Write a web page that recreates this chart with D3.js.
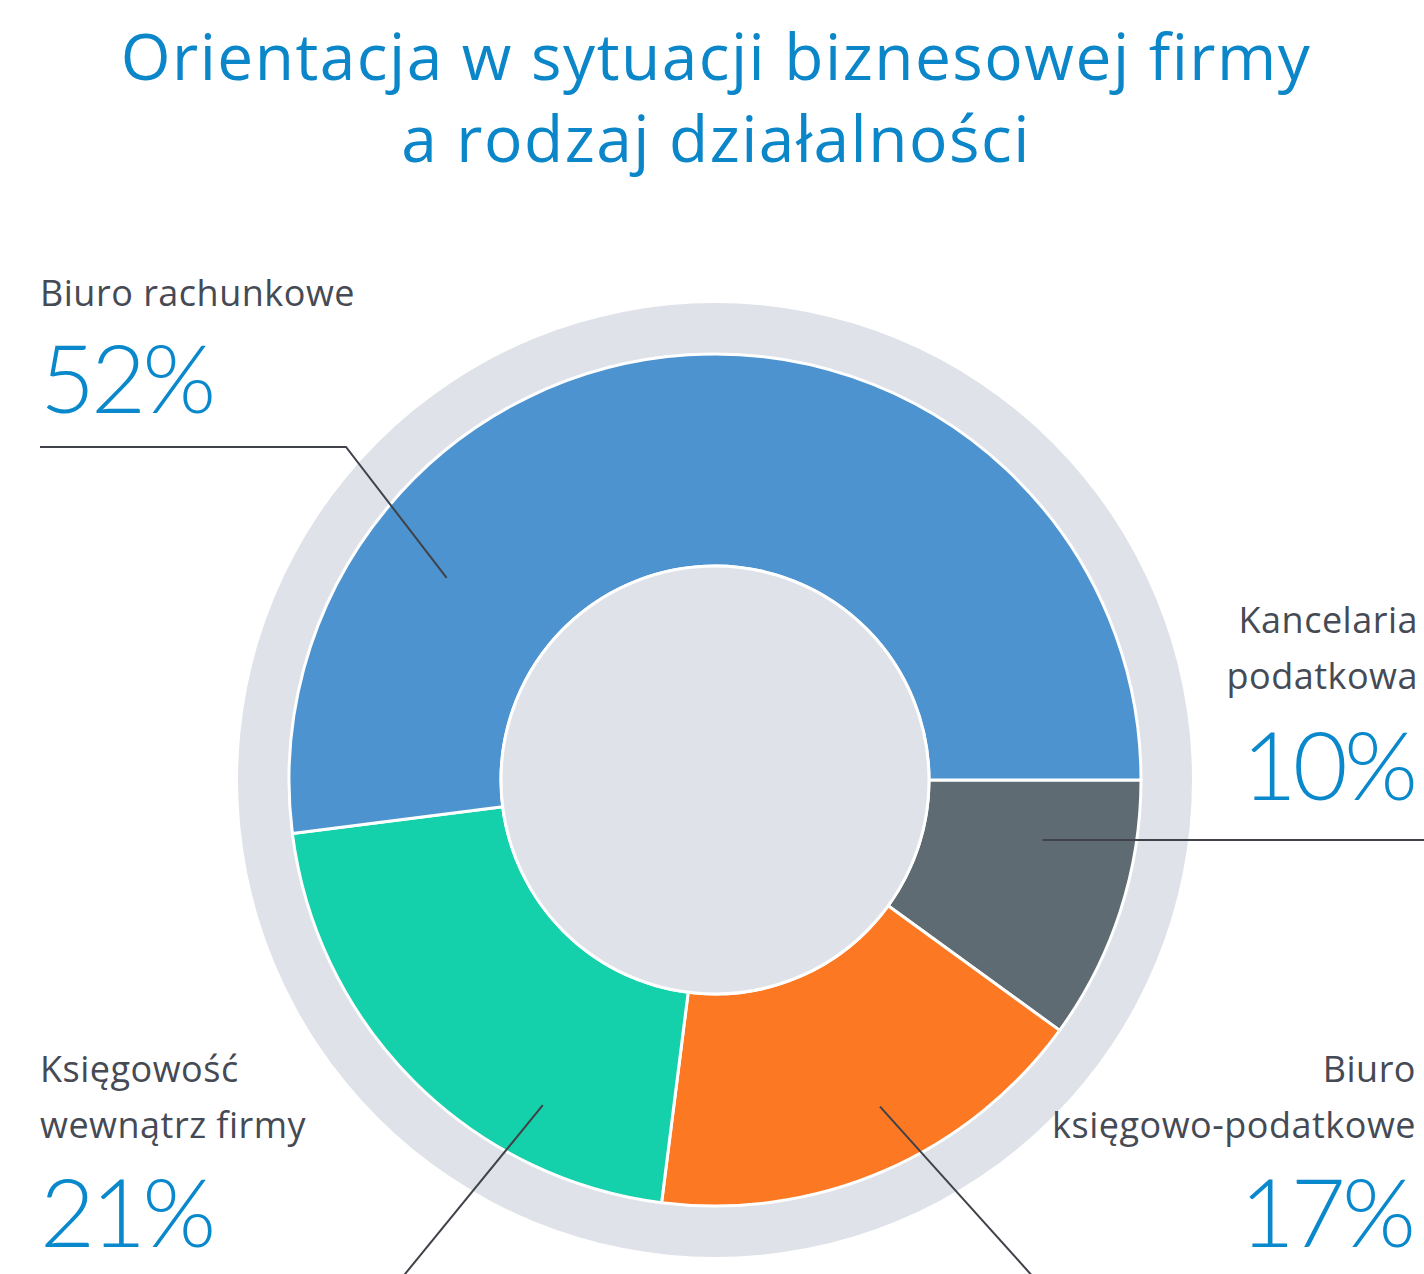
<!DOCTYPE html>
<html>
<head>
<meta charset="utf-8">
<script src="https://cdn.jsdelivr.net/npm/d3@7"></script>
<style>
  body { margin: 0; background: #fff; }
  svg text { font-family: "Open Sans", "Noto Sans", sans-serif; }
</style>
</head>
<body>
<svg class="piesvg"></svg>
<script>
// data
const categories = ['Kancelaria podatkowa', 'Biuro księgowo-podatkowe', 'Księgowość wewnątrz firmy', 'Biuro rachunkowe'];
const values = [10, 17, 21, 52];
const labelLines = [['Kancelaria', 'podatkowa'], ['Biuro', 'księgowo-podatkowe'], ['Księgowość', 'wewnątrz firmy'], ['Biuro rachunkowe']];
const colors = ['#5f6b72', '#fd7822', '#15d1ab', '#4d93cf'];
const titleLines = ['Orientacja w sytuacji biznesowej firmy', 'a rodzaj działalności'];

const dims = { width: 1424, height: 1274, ring: 477, outer: 426, inner: 214 };
const cent = { x: 715, y: 780 };
const pctSpacing = -4;

// label layout: text anchor/pos, leader anchor (angle deg, radius) and leader path
const layout = [
  { x: 1418, y: 633, anchor: 'end', pctY: 800, lead: { a: 100.4, r: 333 }, path: p => [p, [1424, p[1]]] },
  { x: 1416, y: 1082, anchor: 'end', pctY: 1247, lead: { a: 153.2, r: 366 }, path: p => [p, [p[0] + 170, p[1] + 189]] },
  { x: 40, y: 1082, anchor: 'start', pctY: 1247, lead: { a: 207.9, r: 368 }, path: p => [p, [p[0] - 160, p[1] + 196]] },
  { x: 40, y: 306, anchor: 'start', pctY: 413, lead: { a: 307, r: 336 }, path: p => [p, [346, 447], [40, 447]] }
];

const svg = d3.select('.piesvg')
  .attr('width', dims.width)
  .attr('height', dims.height);

// title
svg.append('text')
  .attr('x', 716)
  .attr('text-anchor', 'middle')
  .attr('fill', '#0a86c9')
  .style('font-size', '64px')
  .style('letter-spacing', '1.5px')
  .selectAll('tspan')
  .data(titleLines)
  .enter()
  .append('tspan')
  .attr('x', 716)
  .attr('y', (d, i) => 80 + i * 82)
  .text(d => d);

const graph = svg.append('g')
  .attr('transform', `translate(${cent.x}, ${cent.y})`);

graph.append('circle')
  .attr('r', dims.ring)
  .attr('fill', '#dfe2e9');

const data = categories.map((c, i) => ({ name: c, value: values[i] }));

const pie = d3.pie()
  .sort(null)
  .startAngle(Math.PI / 2)
  .endAngle(Math.PI / 2 + 2 * Math.PI)
  .value(d => d.value);

const arcPath = d3.arc()
  .outerRadius(dims.outer)
  .innerRadius(dims.inner);

graph.selectAll('path.arc')
  .data(pie(data))
  .enter()
  .append('path')
  .attr('class', 'arc')
  .attr('d', arcPath)
  .attr('fill', (d, i) => colors[i])
  .attr('stroke', 'white')
  .attr('stroke-width', 3)
  .attr('stroke-linejoin', 'round');

graph.append('circle')
  .attr('r', dims.inner)
  .attr('fill', '#dfe2e9')
  .attr('stroke', 'white')
  .attr('stroke-width', 3);

// leader lines
const line = d3.line();
svg.selectAll('path.leader')
  .data(layout)
  .enter()
  .append('path')
  .attr('class', 'leader')
  .attr('d', d => {
    const p = d3.pointRadial(d.lead.a * Math.PI / 180, d.lead.r);
    return line(d.path([cent.x + p[0], cent.y + p[1]]));
  })
  .attr('fill', 'none')
  .attr('stroke', '#404249')
  .attr('stroke-width', 2);

// labels
const labels = svg.selectAll('g.label')
  .data(layout)
  .enter()
  .append('g')
  .attr('class', 'label');

labels.append('text')
  .attr('text-anchor', d => d.anchor)
  .attr('fill', '#454a54')
  .style('font-size', '36px')
  .style('letter-spacing', '0.5px')
  .each(function (d, i) {
    d3.select(this).selectAll('tspan')
      .data(labelLines[i])
      .enter()
      .append('tspan')
      .attr('x', d.x)
      .attr('y', (t, j) => d.y + j * 56)
      .text(t => t);
  });

labels.append('text')
  .attr('x', d => d.x)
  .attr('dx', d => d.anchor === 'end' ? pctSpacing : 0)
  .attr('y', d => d.pctY)
  .attr('text-anchor', d => d.anchor)
  .attr('fill', '#0a88cc')
  .style('font-family', 'Lato, "Open Sans", sans-serif')
  .style('font-size', '95px')
  .style('font-weight', 300)
  .style('letter-spacing', pctSpacing + 'px')
  .text((d, i) => values[i] + '%');
</script>
</body>
</html>
